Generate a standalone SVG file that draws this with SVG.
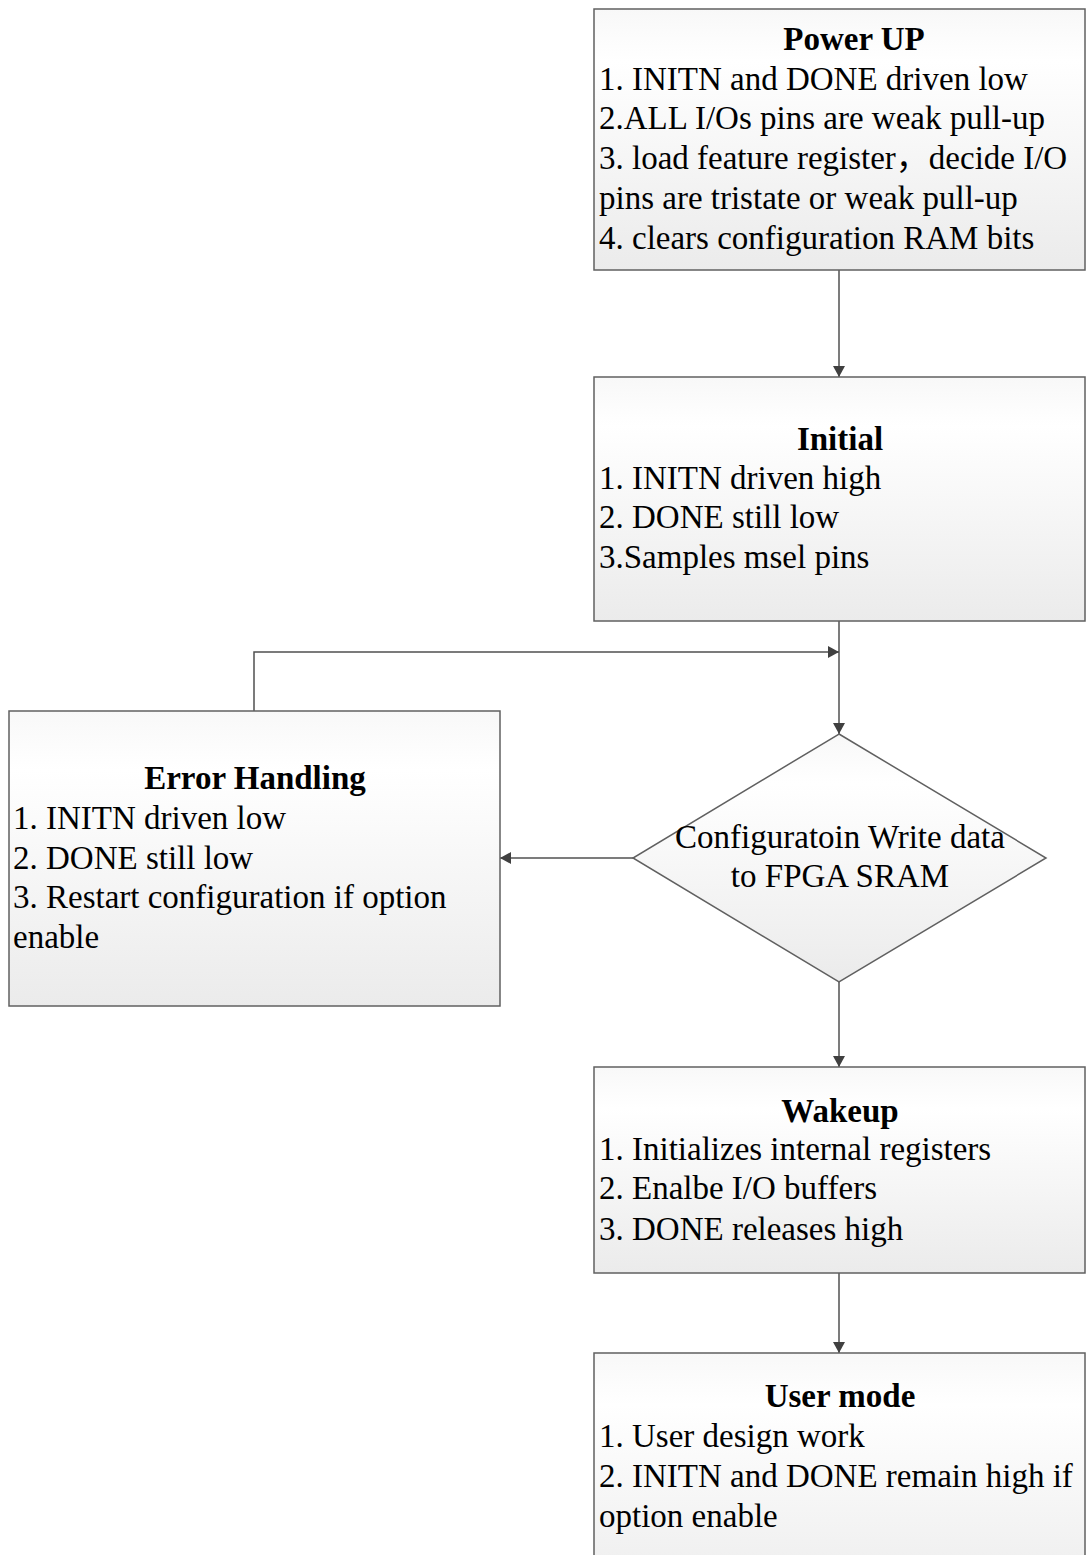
<svg xmlns="http://www.w3.org/2000/svg" width="1089" height="1555" viewBox="0 0 1089 1555">
<style>
.box{stroke:#606060;stroke-width:1.5;fill:url(#g)}
.t{font-family:"Liberation Serif","Times New Roman","Noto Sans CJK SC",serif;font-size:33px;fill:#000}
.h{font-weight:bold;text-anchor:middle}
.c{stroke:#505050;stroke-width:1.5;fill:none}
</style>
<defs>
<linearGradient id="g" x1="0" y1="0" x2="0" y2="1">
<stop offset="0" stop-color="#f8f8f8"/>
<stop offset="0.2" stop-color="#ffffff"/>
<stop offset="1" stop-color="#ebebeb"/>
</linearGradient>
<marker id="a" markerWidth="12" markerHeight="12" refX="11" refY="6" orient="auto" markerUnits="userSpaceOnUse">
<path d="M0,0 L11,6 L0,12 Z" fill="#404040"/>
</marker>
</defs>
<rect width="1089" height="1555" fill="#fff"/>
<g id="connectors">
<line class="c" x1="839" y1="270" x2="839" y2="377" marker-end="url(#a)"/>
<line class="c" x1="839" y1="621" x2="839" y2="734" marker-end="url(#a)"/>
<polyline class="c" points="254,711 254,652 839,652" marker-end="url(#a)"/>
<line class="c" x1="633" y1="858" x2="500" y2="858" marker-end="url(#a)"/>
<line class="c" x1="839" y1="982" x2="839" y2="1067" marker-end="url(#a)"/>
<line class="c" x1="839" y1="1273" x2="839" y2="1353" marker-end="url(#a)"/>
</g>
<g id="powerup">
<rect class="box" x="594" y="9" width="491" height="261"/>
<text class="t h" x="854" y="50">Power UP</text>
<text class="t" x="599" y="90">1. INITN and DONE driven low</text>
<text class="t" x="599" y="129">2.ALL I/Os pins are weak pull-up</text>
<text class="t" x="599" y="169">3. load feature register，decide I/O</text>
<text class="t" x="599" y="209">pins are tristate or weak pull-up</text>
<text class="t" x="599" y="249">4. clears configuration RAM bits</text>
</g>
<g id="initial">
<rect class="box" x="594" y="377" width="491" height="244"/>
<text class="t h" x="840" y="450">Initial</text>
<text class="t" x="599" y="489">1. INITN driven high</text>
<text class="t" x="599" y="528">2. DONE still low</text>
<text class="t" x="599" y="568">3.Samples msel pins</text>
</g>
<g id="error">
<rect class="box" x="9" y="711" width="491" height="295"/>
<text class="t h" x="255" y="789">Error Handling</text>
<text class="t" x="13" y="829">1. INITN driven low</text>
<text class="t" x="13" y="869">2. DONE still low</text>
<text class="t" x="13" y="908">3. Restart configuration if option</text>
<text class="t" x="13" y="948">enable</text>
</g>
<g id="config">
<polygon class="box" points="839,734 1046,858 839,982 633,858"/>
<text class="t" text-anchor="middle" x="840" y="848">Configuratoin Write data</text>
<text class="t" text-anchor="middle" x="840" y="887">to FPGA SRAM</text>
</g>
<g id="wakeup">
<rect class="box" x="594" y="1067" width="491" height="206"/>
<text class="t h" x="840" y="1122">Wakeup</text>
<text class="t" x="599" y="1160">1. Initializes internal registers</text>
<text class="t" x="599" y="1199">2. Enalbe I/O buffers</text>
<text class="t" x="599" y="1240">3. DONE releases high</text>
</g>
<g id="usermode">
<rect class="box" x="594" y="1353" width="491" height="260"/>
<text class="t h" x="840" y="1407">User mode</text>
<text class="t" x="599" y="1447">1. User design work</text>
<text class="t" x="599" y="1487">2. INITN and DONE remain high if</text>
<text class="t" x="599" y="1527">option enable</text>
</g>
</svg>
